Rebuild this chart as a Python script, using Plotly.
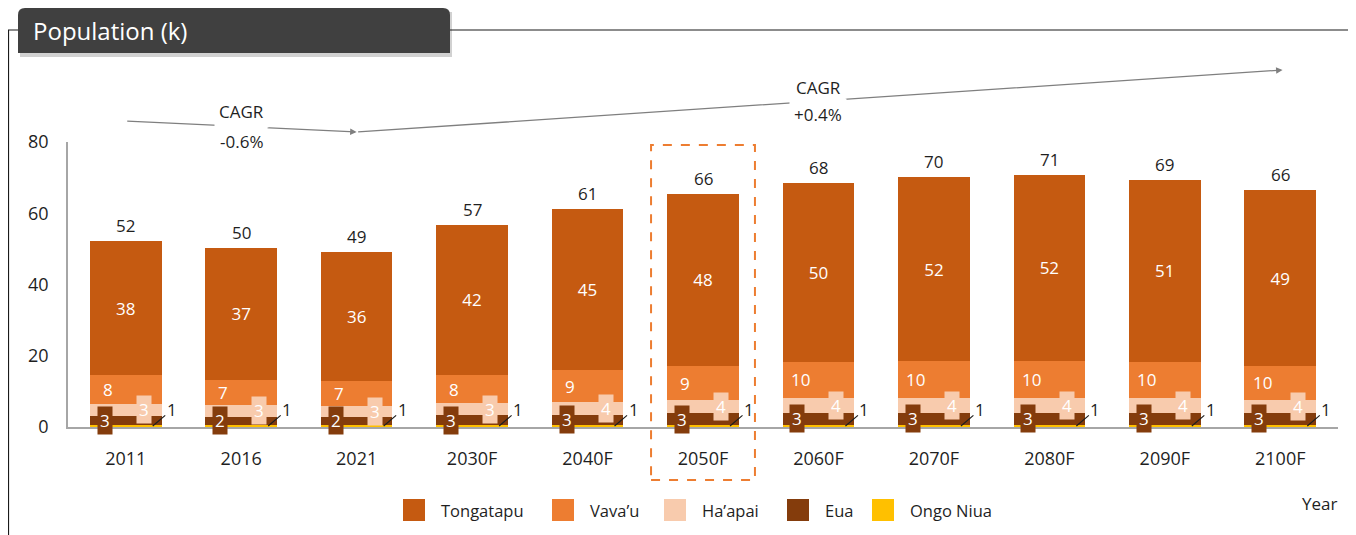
import plotly.graph_objects as go

# ---------------- data ----------------
years = ["2011", "2016", "2021", "2030F", "2040F", "2050F",
         "2060F", "2070F", "2080F", "2090F", "2100F"]
tongatapu = [37.6, 37.0, 36.1, 42.2, 45.4, 48.45, 50.2, 51.7, 52.1, 51.0, 49.2]
vavau = [8.0, 7.2, 7.0, 7.9, 8.8, 9.45, 10.2, 10.3, 10.4, 10.2, 9.6]
haapai = [3.3, 3.2, 3.2, 3.4, 3.6, 3.8, 4.1, 4.2, 4.2, 4.1, 3.7]
eua = [2.6, 2.3, 2.2, 2.7, 2.9, 3.2, 3.4, 3.4, 3.4, 3.4, 3.3]
ongo_niua = [0.6, 0.6, 0.6, 0.6, 0.6, 0.6, 0.6, 0.6, 0.6, 0.6, 0.6]
totals = [52, 50, 49, 57, 61, 66, 68, 70, 71, 69, 66]
series_names = ["Tongatapu", "Vava\u2019u", "Ha\u2019apai", "Eua", "Ongo Niua"]
cagr_labels = ["CAGR", "-0.6%", "CAGR", "+0.4%"]
highlight_year = "2050F"

# ---------------- style ----------------
C_TONGA = "#C55A11"
C_VAVAU = "#ED7D31"
C_HAAPAI = "#F8CBAD"
C_EUA = "#843C0C"
C_ONGO = "#FFC000"
colors = [C_TONGA, C_VAVAU, C_HAAPAI, C_EUA, C_ONGO]
TXT = "#1f1f1f"
FONT = "Open Sans"

# page body has an 8px margin -> figure is offset by 8px
W, H = 1348, 527
L, R, T, B = 60, 18, 134, 108
PW, PH = W - L - R, H - T - B
SX0, SY1 = 68, 427  # screen position of plot-area left / bottom


def px(x):  # screen pixel -> paper x
    return (x - SX0) / PW


def py(y):  # screen pixel -> paper y
    return (SY1 - y) / PH


fig = go.Figure()
xs = list(range(len(years)))
cat_px = PW / len(years)

fig.add_trace(go.Bar(x=xs, y=ongo_niua, name=series_names[4], marker_color=C_ONGO,
                     marker_line_width=0, showlegend=False, hoverinfo="skip"))
fig.add_trace(go.Bar(x=xs, y=eua, name=series_names[3], marker_color=C_EUA,
                     marker_line_width=0, showlegend=False, hoverinfo="skip"))
fig.add_trace(go.Bar(x=xs, y=haapai, name=series_names[2], marker_color=C_HAAPAI,
                     marker_line_width=0, showlegend=False, hoverinfo="skip"))
fig.add_trace(go.Bar(x=xs, y=vavau, name=series_names[1], marker_color=C_VAVAU,
                     marker_line_width=0, showlegend=False, hoverinfo="skip"))
fig.add_trace(go.Bar(x=xs, y=tongatapu, name=series_names[0], marker_color=C_TONGA,
                     marker_line_width=0, showlegend=False, hoverinfo="skip",
                     texttemplate="%{y:.0f}", textposition="inside",
                     insidetextanchor="middle",
                     textfont=dict(color="white", size=17, family=FONT)))

ann = []
for i in xs:
    base_e = ongo_niua[i]
    base_h = base_e + eua[i]
    base_v = base_h + haapai[i]
    top = base_v + vavau[i] + tongatapu[i]
    ann.append(dict(x=i, y=base_v + vavau[i] / 2, xref="x", yref="y",
                    text=f"{vavau[i]:.0f}", showarrow=False, xshift=-18,
                    font=dict(color="white", size=17, family=FONT)))
    ann.append(dict(x=i, y=base_h + haapai[i] / 2, xref="x", yref="y",
                    text=f"{haapai[i]:.0f}", showarrow=False, xshift=18,
                    bgcolor=C_HAAPAI, borderpad=2,
                    font=dict(color="white", size=17, family=FONT)))
    ann.append(dict(x=i, y=base_e + eua[i] / 2, xref="x", yref="y",
                    text=f"{eua[i]:.0f}", showarrow=False, xshift=-21,
                    bgcolor=C_EUA, borderpad=2,
                    font=dict(color="white", size=17, family=FONT)))
    ann.append(dict(x=i, y=ongo_niua[i] / 2, xref="x", yref="y",
                    text=f"{max(1, round(ongo_niua[i])):.0f}", showarrow=True,
                    arrowhead=0, arrowwidth=1.2, arrowcolor=TXT,
                    ax=19, ay=-16, xshift=27, standoff=0,
                    font=dict(color=TXT, size=17, family=FONT)))
    ann.append(dict(x=i, y=top, xref="x", yref="y", text=str(totals[i]),
                    showarrow=False, yanchor="bottom", yshift=2,
                    font=dict(color=TXT, size=17, family=FONT)))

# CAGR arrows
ARW = "#7F7F7F"
ann.append(dict(x=2, y=py(132), xref="x", yref="paper",
                ax=(0 - 2) * cat_px, ay=121 - 132,
                text="", showarrow=True, arrowhead=2, arrowsize=1, arrowwidth=1.3,
                arrowcolor=ARW, standoff=0))
ann.append(dict(x=10.02, y=py(70), xref="x", yref="paper",
                ax=(2 - 10.02) * cat_px, ay=132 - 70,
                text="", showarrow=True, arrowhead=2, arrowsize=1, arrowwidth=1.3,
                arrowcolor=ARW, standoff=0))
for (xc, sy, t) in [(1, 112, cagr_labels[0]), (1, 141, cagr_labels[1]),
                    (6, 87, cagr_labels[2]), (6, 115, cagr_labels[3])]:
    ann.append(dict(x=xc, y=py(sy), xref="x", yref="paper", text=t, showarrow=False,
                    bgcolor="white", borderpad=4, yanchor="middle",
                    font=dict(color=TXT, size=17, family=FONT)))

# Title
ann.append(dict(x=px(31), y=py(31), xref="paper", yref="paper", text="Population (k)",
                showarrow=False, xanchor="left", yanchor="middle",
                font=dict(color="white", size=24, family=FONT)))

# Year label
ann.append(dict(x=px(1339), y=py(503), xref="paper", yref="paper", text="Year",
                showarrow=False, xanchor="right", yanchor="middle",
                font=dict(color=TXT, size=17, family=FONT)))

shapes = []
shapes.append(dict(type="path", xref="paper", yref="paper",
                   path=f"M {px(18)},{py(30)} L {px(8.5)},{py(30)} L {px(8.5)},{py(560)} "
                        f"M {px(450)},{py(30)} L {px(1353)},{py(30)} L {px(1353)},{py(560)}",
                   line=dict(color="#1a1a1a", width=1.2)))
rx, ry = 7 / PW, 7 / PH
x0, x1, y0, y1 = px(18), px(450), py(53), py(8)
shapes.append(dict(type="rect", xref="paper", yref="paper",
                   x0=px(20), x1=px(452), y0=py(57), y1=py(12),
                   fillcolor="rgba(0,0,0,0.18)", line=dict(width=0)))
shapes.append(dict(type="path", xref="paper", yref="paper",
                   path=(f"M {x0},{y0} L {x0},{y1 - ry} Q {x0},{y1} {x0 + rx},{y1} "
                         f"L {x1 - rx},{y1} Q {x1},{y1} {x1},{y1 - ry} L {x1},{y0} Z"),
                   fillcolor="#404040", line=dict(width=0)))
hi = years.index(highlight_year)
shapes.append(dict(type="rect", xref="x", yref="paper", x0=hi - 0.45, x1=hi + 0.45,
                   y0=py(480), y1=py(145), line=dict(color=C_VAVAU, width=2, dash="dash"),
                   fillcolor="rgba(0,0,0,0)", layer="above"))

# custom legend
leg_sw_x = [403, 552, 664, 787, 872]
for k, idx in enumerate([0, 1, 2, 3, 4]):
    sx = leg_sw_x[k]
    shapes.append(dict(type="rect", xref="paper", yref="paper",
                       x0=px(sx), x1=px(sx + 22), y0=py(521), y1=py(499),
                       fillcolor=colors[idx], line=dict(width=0)))
    ann.append(dict(x=px(sx + 36), y=py(510), xref="paper", yref="paper",
                    text=series_names[idx], showarrow=False, xanchor="left",
                    yanchor="middle", font=dict(color=TXT, size=16.5, family=FONT)))

fig.update_layout(
    width=W, height=H, autosize=False,
    margin=dict(l=L, r=R, t=T, b=B, pad=0),
    barmode="stack", bargap=0.38,
    plot_bgcolor="white", paper_bgcolor="white",
    font=dict(family=FONT, color=TXT, size=16),
    annotations=ann, shapes=shapes,
    xaxis=dict(range=[-0.5, len(years) - 0.5], tickmode="array", tickvals=xs,
               ticktext=years, showline=True, linecolor="#A6A6A6", linewidth=1.5,
               ticks="", showgrid=False, zeroline=False, ticklabelstandoff=15,
               tickfont=dict(size=18, color=TXT, family=FONT), fixedrange=True),
    yaxis=dict(range=[0, 80], tickvals=[0, 20, 40, 60, 80], showline=True,
               linecolor="#A6A6A6", linewidth=1.5, ticks="", showgrid=False,
               zeroline=False, ticklabelstandoff=14,
               tickfont=dict(size=18, color=TXT, family=FONT), fixedrange=True),
    showlegend=False,
)

fig.write_html("out.html")
